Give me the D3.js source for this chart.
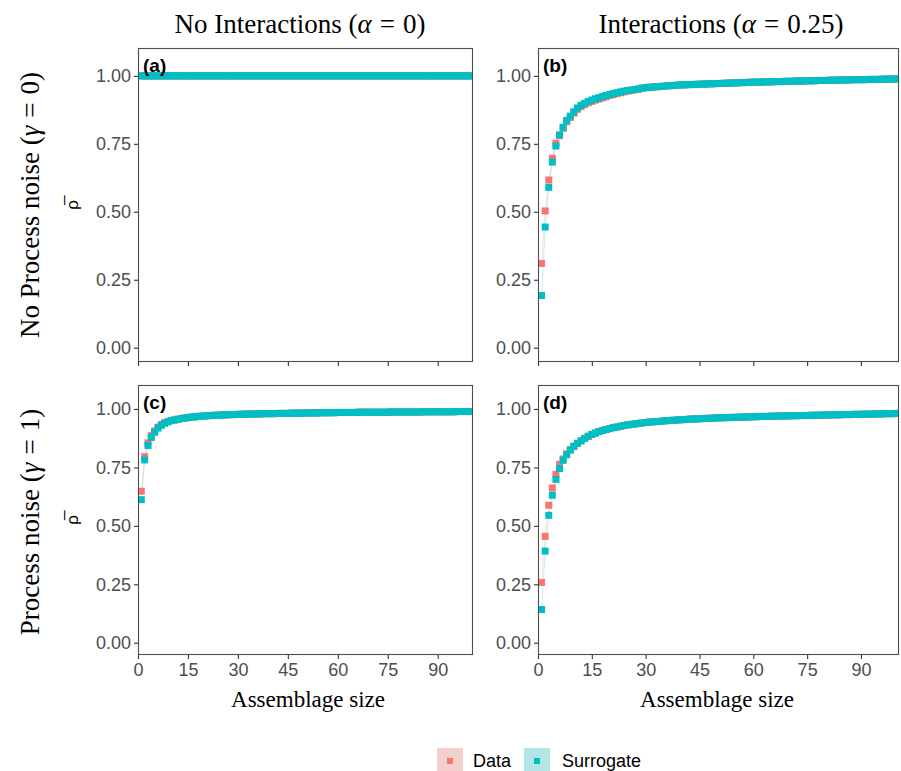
<!DOCTYPE html>
<html>
<head>
<meta charset="utf-8">
<script src="https://cdn.jsdelivr.net/npm/d3@7/dist/d3.min.js"></script>
<style>
  html, body { margin: 0; padding: 0; background: #ffffff; }
  svg { display: block; }
</style>
</head>
<body>
<svg id="chart" width="901" height="771"></svg>
<script>
// ---------------- data ----------------
const colTitles = ["No Interactions (", "Interactions ("];
const colAlpha = ["0", "0.25"];
const rowTitles = ["No Process noise (", "Process noise ("];
const rowGamma = ["0", "1"];
const panelTags = ["(a)", "(b)", "(c)", "(d)"];
const seriesNames = ["Data", "Surrogate"];
const xTicks = [0, 15, 30, 45, 60, 75, 90];
const yTicks = [0, 0.25, 0.5, 0.75, 1];
const sizes = d3.range(1, 101); // assemblage size 1..100

const aData = new Array(100).fill(1.0);
const aSurrogate = new Array(100).fill(1.0);

const bSurrogate = [
 0.192,0.444,0.590,0.683,0.742,0.783,0.811,0.836,0.852,0.868,
 0.882,0.892,0.899,0.906,0.911,0.916,0.920,0.924,0.928,0.932,
 0.935,0.938,0.941,0.944,0.946,0.948,0.950,0.952,0.955,0.957,
 0.958,0.959,0.960,0.961,0.962,0.963,0.964,0.965,0.966,0.967,
 0.967,0.968,0.968,0.969,0.969,0.970,0.970,0.971,0.971,0.972,
 0.972,0.973,0.973,0.974,0.974,0.975,0.975,0.976,0.976,0.977,
 0.977,0.977,0.978,0.978,0.978,0.979,0.979,0.979,0.980,0.980,
 0.980,0.981,0.981,0.981,0.982,0.982,0.982,0.983,0.983,0.983,
 0.984,0.984,0.984,0.985,0.985,0.985,0.985,0.986,0.986,0.986,
 0.986,0.987,0.987,0.987,0.987,0.988,0.988,0.988,0.988,0.989];
const bData = [
 0.310,0.503,0.617,0.697,0.752,0.780,0.807,0.831,0.847,0.863,
 0.877,0.887,0.894,0.901,0.906,0.911,0.915,0.919,0.923,0.928,
 0.931,0.935,0.938,0.941,0.944,0.946,0.949,0.951,0.954,0.956,
 0.958,0.959,0.960,0.961,0.962,0.963,0.964,0.965,0.966,0.967,
 0.967,0.968,0.968,0.969,0.969,0.970,0.970,0.971,0.971,0.972,
 0.972,0.973,0.973,0.974,0.974,0.975,0.975,0.976,0.976,0.977,
 0.977,0.977,0.978,0.978,0.978,0.979,0.979,0.979,0.980,0.980,
 0.980,0.981,0.981,0.981,0.982,0.982,0.982,0.983,0.983,0.983,
 0.984,0.984,0.984,0.985,0.985,0.985,0.985,0.986,0.986,0.986,
 0.986,0.987,0.987,0.987,0.987,0.988,0.988,0.988,0.988,0.989];

const cSurrogate = [
 0.612,0.782,0.844,0.878,0.900,0.918,0.930,0.939,0.945,0.950,
 0.953,0.956,0.959,0.961,0.963,0.965,0.966,0.968,0.969,0.970,
 0.971,0.972,0.973,0.973,0.974,0.975,0.975,0.976,0.976,0.977,
 0.977,0.978,0.978,0.978,0.979,0.979,0.979,0.980,0.980,0.980,
 0.980,0.981,0.981,0.981,0.981,0.982,0.982,0.982,0.982,0.983,
 0.983,0.983,0.983,0.983,0.984,0.984,0.984,0.984,0.984,0.985,
 0.985,0.985,0.985,0.985,0.985,0.986,0.986,0.986,0.986,0.986,
 0.986,0.986,0.986,0.986,0.986,0.987,0.987,0.987,0.987,0.987,
 0.987,0.987,0.987,0.987,0.987,0.988,0.988,0.988,0.988,0.988,
 0.988,0.988,0.988,0.988,0.988,0.989,0.989,0.989,0.989,0.989];
const cData = [
 0.648,0.796,0.855,0.886,0.906,0.922,0.933,0.941,0.946,0.951,
 0.953,0.956,0.959,0.961,0.963,0.965,0.966,0.968,0.969,0.970,
 0.971,0.972,0.973,0.973,0.974,0.975,0.975,0.976,0.976,0.977,
 0.977,0.978,0.978,0.978,0.979,0.979,0.979,0.980,0.980,0.980,
 0.980,0.981,0.981,0.981,0.981,0.982,0.982,0.982,0.982,0.983,
 0.983,0.983,0.983,0.983,0.984,0.984,0.984,0.984,0.984,0.985,
 0.985,0.985,0.985,0.985,0.985,0.986,0.986,0.986,0.986,0.986,
 0.986,0.986,0.986,0.986,0.986,0.987,0.987,0.987,0.987,0.987,
 0.987,0.987,0.987,0.987,0.987,0.988,0.988,0.988,0.988,0.988,
 0.988,0.988,0.988,0.988,0.988,0.989,0.989,0.989,0.989,0.989];

const dSurrogate = [
 0.142,0.392,0.545,0.631,0.699,0.745,0.780,0.804,0.824,0.840,
 0.853,0.864,0.874,0.883,0.891,0.897,0.903,0.908,0.912,0.916,
 0.920,0.923,0.926,0.929,0.932,0.934,0.936,0.938,0.940,0.942,
 0.944,0.945,0.946,0.947,0.949,0.950,0.951,0.952,0.953,0.954,
 0.955,0.956,0.957,0.957,0.958,0.959,0.960,0.960,0.961,0.962,
 0.962,0.963,0.963,0.964,0.964,0.965,0.965,0.966,0.966,0.967,
 0.967,0.968,0.968,0.968,0.969,0.969,0.970,0.970,0.970,0.971,
 0.971,0.971,0.972,0.972,0.972,0.973,0.973,0.973,0.974,0.974,
 0.974,0.975,0.975,0.975,0.976,0.976,0.976,0.977,0.977,0.977,
 0.978,0.978,0.978,0.979,0.979,0.979,0.980,0.980,0.980,0.981];
const dData = [
 0.258,0.455,0.588,0.662,0.720,0.763,0.786,0.808,0.826,0.841,
 0.853,0.864,0.874,0.883,0.891,0.897,0.903,0.908,0.912,0.916,
 0.920,0.923,0.926,0.929,0.932,0.934,0.936,0.938,0.940,0.942,
 0.944,0.945,0.946,0.947,0.949,0.950,0.951,0.952,0.953,0.954,
 0.955,0.956,0.957,0.957,0.958,0.959,0.960,0.960,0.961,0.962,
 0.962,0.963,0.963,0.964,0.964,0.965,0.965,0.966,0.966,0.967,
 0.967,0.968,0.968,0.968,0.969,0.969,0.970,0.970,0.970,0.971,
 0.971,0.971,0.972,0.972,0.972,0.973,0.973,0.973,0.974,0.974,
 0.974,0.975,0.975,0.975,0.976,0.976,0.976,0.977,0.977,0.977,
 0.978,0.978,0.978,0.979,0.979,0.979,0.980,0.980,0.980,0.981];

const panelSeries = [
  [aData, aSurrogate],
  [bData, bSurrogate],
  [cData, cSurrogate],
  [dData, dSurrogate]
];

// ---------------- layout ----------------
const colors = { Data: "#F8766D", Surrogate: "#00BFC4" };
const keyFill = { Data: "#F2CFCD", Surrogate: "#B3E4E6" };
const cols = [{ x0: 138, x1: 473 }, { x0: 538, x1: 899 }];
const rows = [{ y0: 48, y1: 362 }, { y0: 385, y1: 655 }];
const xDomain = [0, 100.6];
const yDomain = [-0.0525, 1.1025];
const sansFont = "'Liberation Sans', Arial, Helvetica, sans-serif";
const serifFont = "'Liberation Serif', 'Times New Roman', serif";

const svg = d3.select("#chart");

function mathLabel(sel, pre, sym, val) {
  sel.append("tspan").text(pre);
  sel.append("tspan").attr("font-style", "italic").text(sym);
  sel.append("tspan").attr("dx", 8).text("=");
  sel.append("tspan").attr("dx", 8).text(val + ")");
}

// column titles
colTitles.forEach((t, i) => {
  const cx = i === 0 ? 300 : 721;
  const txt = svg.append("text")
    .attr("x", cx).attr("y", 33)
    .attr("text-anchor", "middle")
    .attr("font-family", serifFont).attr("font-size", 27).attr("fill", "#000");
  mathLabel(txt, t, "α", colAlpha[i]);
});

// row titles
rowTitles.forEach((t, j) => {
  const cy = j === 0 ? 205 : 522;
  const txt = svg.append("text")
    .attr("transform", `translate(39,${cy}) rotate(-90)`)
    .attr("text-anchor", "middle")
    .attr("font-family", serifFont).attr("font-size", 27).attr("fill", "#000");
  mathLabel(txt, t, "γ", rowGamma[j]);
  svg.append("text")
    .attr("transform", `translate(78,${(rows[j].y0 + rows[j].y1) / 2}) rotate(-90)`)
    .attr("text-anchor", "middle")
    .attr("font-family", sansFont).attr("font-size", 17).attr("fill", "#000")
    .text("ρ\u0305");
});

const defs = svg.append("defs");

panelSeries.forEach((series, p) => {
  const ci = p % 2, ri = Math.floor(p / 2);
  const c = cols[ci], r = rows[ri];
  const x = d3.scaleLinear().domain(xDomain).range([c.x0, c.x1]);
  const y = d3.scaleLinear().domain(yDomain).range([r.y1, r.y0]);

  defs.append("clipPath").attr("id", "clip" + p)
    .append("rect").attr("x", c.x0).attr("y", r.y0)
    .attr("width", c.x1 - c.x0).attr("height", r.y1 - r.y0);

  const g = svg.append("g");
  g.append("rect").attr("x", c.x0).attr("y", r.y0)
    .attr("width", c.x1 - c.x0).attr("height", r.y1 - r.y0)
    .attr("fill", "#fff");

  const plot = g.append("g").attr("clip-path", `url(#clip${p})`);
  const line = d3.line().x((d, i) => x(sizes[i])).y(d => y(d));
  series.forEach((vals, s) => {
    plot.append("path").datum(vals)
      .attr("d", line).attr("fill", "none")
      .attr("stroke", colors[seriesNames[s]]).attr("stroke-opacity", 0.25)
      .attr("stroke-width", 1);
  });
  const sz = 7;
  series.forEach((vals, s) => {
    plot.append("g").selectAll("rect").data(vals).join("rect")
      .attr("x", (d, i) => x(sizes[i]) - sz / 2)
      .attr("y", d => y(d) - sz / 2)
      .attr("width", sz).attr("height", sz)
      .attr("fill", colors[seriesNames[s]]);
  });

  g.append("rect").attr("x", c.x0 + 0.5).attr("y", r.y0 + 0.5)
    .attr("width", c.x1 - c.x0 - 1).attr("height", r.y1 - r.y0 - 1)
    .attr("fill", "none").attr("stroke", "#4d4d4d").attr("stroke-width", 1.1);

  const ya = g.append("g").attr("transform", `translate(${c.x0},0)`)
    .call(d3.axisLeft(y).tickValues(yTicks).tickFormat(d3.format(".2f")).tickSize(4).tickPadding(3));
  ya.select(".domain").remove();
  ya.selectAll("line").attr("stroke", "#333").attr("stroke-width", 1.1);
  ya.selectAll("text").attr("font-family", sansFont).attr("font-size", 18).attr("fill", "#4d4d4d");

  const xa = g.append("g").attr("transform", `translate(0,${r.y1})`)
    .call(d3.axisBottom(x).tickValues(xTicks).tickSize(4).tickPadding(4));
  xa.select(".domain").remove();
  xa.selectAll("line").attr("stroke", "#333").attr("stroke-width", 1.1);
  xa.selectAll("text").attr("font-family", sansFont).attr("font-size", 18).attr("fill", "#4d4d4d");
  if (ri === 0) xa.selectAll("text").remove();

  g.append("text").attr("x", c.x0 + 5).attr("y", r.y0 + 24)
    .attr("font-family", sansFont).attr("font-weight", "bold").attr("font-size", 19)
    .attr("fill", "#000").text(panelTags[p]);

  if (ri === 1) {
    svg.append("text").attr("x", ci === 0 ? 308 : 717).attr("y", 707)
      .attr("text-anchor", "middle").attr("font-family", serifFont).attr("font-size", 23)
      .attr("fill", "#000").text("Assemblage size");
  }
});

// legend
const leg = svg.append("g");
const keyX = [437, 524], textX = [473, 562];
seriesNames.forEach((n, i) => {
  leg.append("rect").attr("x", keyX[i]).attr("y", 748).attr("width", 26).attr("height", 26)
    .attr("fill", keyFill[n]);
  leg.append("rect").attr("x", keyX[i] + 10).attr("y", 758).attr("width", 6).attr("height", 6)
    .attr("fill", colors[n]);
  leg.append("text").attr("x", textX[i]).attr("y", 767)
    .attr("font-family", sansFont).attr("font-size", 18).attr("fill", "#000").text(n);
});
</script>
</body>
</html>
